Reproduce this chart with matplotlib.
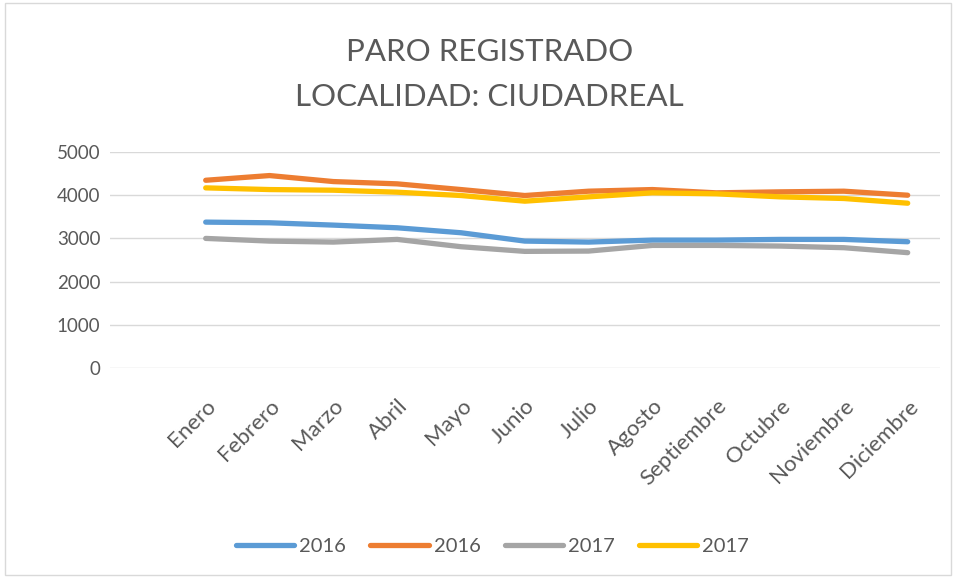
import matplotlib.pyplot as plt
from matplotlib.patches import Rectangle

meses = ['Enero', 'Febrero', 'Marzo', 'Abril', 'Mayo', 'Junio', 'Julio',
         'Agosto', 'Septiembre', 'Octubre', 'Noviembre', 'Diciembre']

azul_2016 = [3377, 3362, 3308, 3246, 3131, 2938, 2915, 2961, 2961, 2977, 2977, 2923]
naranja_2016 = [4346, 4455, 4316, 4263, 4131, 3993, 4093, 4131, 4055, 4078, 4093, 4000]
gris_2017 = [3000, 2938, 2915, 2977, 2808, 2700, 2707, 2838, 2838, 2823, 2785, 2670]
amarillo_2017 = [4170, 4131, 4116, 4070, 3993, 3862, 3962, 4055, 4032, 3962, 3924, 3815]

series = [
    (azul_2016, '2016', '#5b9bd5'),
    (naranja_2016, '2016', '#ed7d31'),
    (gris_2017, '2017', '#a5a5a5'),
    (amarillo_2017, '2017', '#ffc000'),
]

plt.rcParams['font.family'] = ['Lato', 'DejaVu Sans']
texto = '#595959'

fig = plt.figure(figsize=(9.58, 5.78), dpi=100)
ax = fig.add_axes([0.1148, 0.3633, 0.866, 0.3737])

x = list(range(len(meses)))
for vals, nombre, color in series:
    ax.plot(x, vals, color=color, lw=3.8, label=nombre, solid_capstyle='round')

ax.set_xlim(-1.5, 11.5)
ax.set_ylim(0, 5000)
ax.set_yticks(range(0, 5001, 1000))
ax.grid(axis='y', color='#d9d9d9', lw=1)
ax.set_axisbelow(True)
for s in ax.spines.values():
    s.set_visible(False)
ax.tick_params(axis='y', length=0, labelsize=13.5, colors=texto, pad=7)
ax.set_xticks(x)
ax.set_xticklabels(meses, rotation=45, ha='right', rotation_mode='anchor')
ax.tick_params(axis='x', length=0, labelsize=16, colors=texto, pad=20)

fig.text(0.511, 0.91, 'PARO REGISTRADO', ha='center', va='center',
         fontsize=22.5, color=texto)
fig.text(0.511, 0.832, 'LOCALIDAD: CIUDADREAL', ha='center', va='center',
         fontsize=22.5, color=texto)

fig.legend(loc='center', bbox_to_anchor=(0.514, 0.055), ncol=4, frameon=False,
           fontsize=14.5, labelcolor=texto, handlelength=2.9, columnspacing=1.2,
           handletextpad=0.25)

fig.patches.append(Rectangle((0.005, 0.005), 0.988, 0.99, transform=fig.transFigure,
                             fill=False, edgecolor='#d9d9d9', lw=1))

fig.savefig('out.png', dpi=100)
